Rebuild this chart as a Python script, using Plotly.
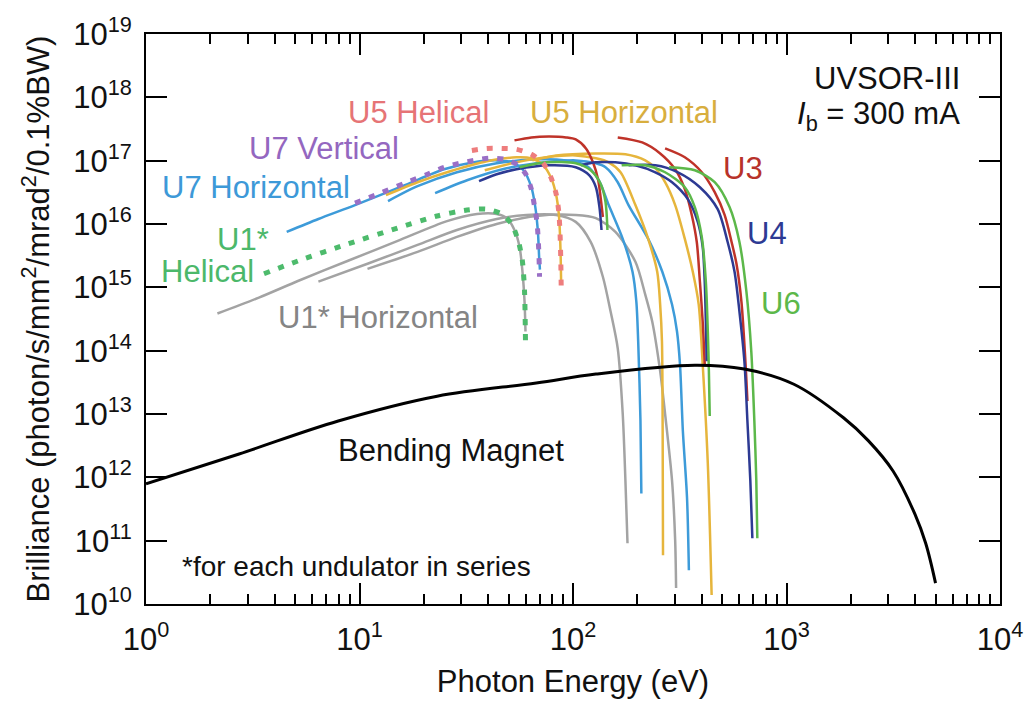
import plotly.graph_objects as go

# ---------------- data (photon energy in eV, brilliance) ----------------
BM_E = [1, 2.73, 7.95, 23.1, 67.3, 128, 372, 635, 1083, 1849, 2415, 3155, 4000, 4487, 4990]
BM_B = [7.9e11, 2.34e12, 7.76e12, 1.91e13, 3.09e13, 4.27e13, 5.89e13, 5.13e13, 2.95e13, 8.71e12, 3.8e12, 1.26e12, 2.6e11, 9.1e10, 2.14e10]

# U1* Horizontal (gray), harmonics 1, 3, 5
U1H1_E = [2.16, 3.38, 5.18, 8.84, 15.1, 25.7, 35.5, 43.9, 48.9, 53.2, 56.2, 58.0, 59.3, 59.9]
U1H1_B = [3.86e14, 6.89e14, 1.27e15, 2.63e15, 5.41e15, 1.11e16, 1.44e16, 1.44e16, 1.24e16, 8.05e15, 4.35e15, 1.76e15, 5.96e14, 2.01e14]
U1H3_E = [6.42, 10.9, 18.7, 28.6, 43.9, 60.5, 83.4, 103, 121, 138, 150, 162, 171, 176, 180]
U1H3_B = [1.23e15, 2.36e15, 4.68e15, 8.05e15, 1.20e16, 1.39e16, 1.39e16, 1.08e16, 5.22e15, 1.47e15, 4.15e14, 1.09e14, 1.0e13, 8.87e11, 9.1e10]
U1H5_E = [10.9, 18.7, 28.6, 43.9, 67.3, 103, 128, 158, 196, 218, 235, 256, 270, 291, 301, 304]
U1H5_B = [1.96e15, 3.63e15, 6.25e15, 1.0e16, 1.34e16, 1.39e16, 1.24e16, 7.5e15, 2.53e15, 7.67e14, 2.89e14, 4.74e13, 1.0e13, 8.87e11, 1.01e11, 1.79e10]

# U1* Helical (green, dotted)
U1C_E = [3.57, 5.18, 8.84, 15.1, 23.1, 31.9, 39.5, 46.3, 51.6, 55.6, 58.0, 59.3, 59.9]
U1C_B = [1.64e15, 2.63e15, 4.85e15, 8.65e15, 1.34e16, 1.66e16, 1.72e16, 1.44e16, 1.0e16, 5.2e15, 2.53e15, 8.55e14, 1.40e14]

# U7 Horizontal (light blue)
U7H1_E = [4.56, 6.42, 9.53, 16.3, 24.9, 34.4, 43.9, 51.6, 58.6, 63.8, 66.6, 68.5, 69.4, 70.0]
U7H1_B = [7.5e15, 1.2e16, 1.99e16, 4.1e16, 7.31e16, 9.42e16, 1.01e17, 9.42e16, 7.05e16, 3.81e16, 1.85e16, 7.5e15, 3.03e15, 1.9e15]
U7H3_E = [13.6, 18.7, 28.6, 43.9, 67.3, 92.8, 115, 132, 147, 171, 190, 198, 202, 207, 209]
U7H3_B = [2.3e16, 3.95e16, 6.56e16, 9.08e16, 1.05e17, 1.01e17, 8.45e16, 4.91e16, 1.99e16, 5.82e15, 1.76e15, 5.96e14, 1.40e14, 7.76e12, 5.55e11]
U7H5_E = [22.6, 31.9, 48.9, 74.9, 103, 128, 142, 162, 182, 225, 262, 291, 307, 317, 327, 342, 349]
U7H5_B = [3.07e16, 4.91e16, 7.59e16, 9.42e16, 1.01e17, 9.08e16, 7.86e16, 4.57e16, 1.99e16, 5.82e15, 1.76e15, 5.35e14, 2.01e14, 6.11e13, 5.41e12, 4.8e11, 3.42e10]

# U7 Vertical (purple, dotted)
U7V_E = [9.53, 12.2, 16.3, 20.8, 24.9, 29.3, 34.4, 40.3, 47.9, 55.6, 60.5, 63.8, 65.9, 67.8, 68.7, 69.3, 69.7]
U7V_B = [2.14e16, 2.96e16, 4.41e16, 6.1e16, 7.86e16, 9.08e16, 1.01e17, 1.09e17, 1.05e17, 8.45e16, 5.89e16, 3.55e16, 1.99e16, 1.08e16, 5.82e15, 3.03e15, 1.47e15]

# U5 Helical (pink, dotted)
U5C_E = [33.6, 39.5, 46.3, 54.4, 63.8, 72.6, 79.1, 83.4, 85.8, 86.9, 87.6, 88.1]
U5C_B = [1.45e17, 1.56e17, 1.56e17, 1.51e17, 1.26e17, 9.08e16, 5.28e16, 2.96e16, 1.55e16, 7.5e15, 3.03e15, 9.2e14]

# U5 Horizontal (gold)
U5H1_E = [13.3, 18.7, 26.6, 39.5, 54.4, 63.8, 72.6, 79.1, 83.4, 85.8, 86.9, 87.6, 88.0]
U5H1_B = [2.86e16, 4.57e16, 6.8e16, 9.77e16, 1.13e17, 1.09e17, 8.45e16, 5.28e16, 2.86e16, 1.44e16, 6.97e15, 2.82e15, 1.14e15]
U5H3_E = [38.6, 54.4, 74.9, 103, 128, 147, 167, 196, 225, 248, 256, 261, 263, 264]
U5H3_B = [7.05e16, 9.42e16, 1.13e17, 1.21e17, 1.09e17, 9.42e16, 6.56e16, 1.99e16, 5.82e15, 1.76e15, 5.35e14, 1.40e14, 5.41e12, 5.89e10]
U5H5_E = [64.5, 83.4, 128, 176, 218, 243, 270, 301, 334, 364, 388, 405, 428, 446]
U5H5_B = [1.01e17, 1.21e17, 1.30e17, 1.26e17, 1.01e17, 7.59e16, 4.57e16, 1.99e16, 5.82e15, 1.76e15, 5.35e14, 6.11e13, 1.64e12, 1.39e10]

# U4 (dark blue)
U4H1_E = [36.3, 43.9, 54.4, 77.4, 103, 119, 128, 133, 136]
U4H1_B = [4.74e16, 6.1e16, 7.31e16, 8.45e16, 7.86e16, 5.89e16, 3.81e16, 1.85e16, 8.05e15]
U4H3_E = [109, 128, 158, 196, 243, 291, 345, 384, 405, 414, 419, 423]
U4H3_B = [8.45e16, 9.42e16, 9.42e16, 8.45e16, 6.56e16, 4.57e16, 2.47e16, 1.08e16, 4.35e15, 1.23e15, 2.89e14, 6.81e13]
U4H5_E = [182, 243, 310, 393, 476, 530, 571, 602, 635, 656, 677, 692]
U4H5_B = [8.45e16, 8.45e16, 6.56e16, 3.81e16, 1.72e16, 5.2e15, 1.76e15, 4.15e14, 6.81e13, 7.76e12, 8.87e11, 1.09e11]

# U6 (green)
U6H1_E = [56.2, 74.9, 103, 121, 135, 142, 145]
U6H1_B = [7.86e16, 9.42e16, 9.08e16, 7.05e16, 4.25e16, 2.22e16, 8.05e15]
U6H3_E = [169, 218, 270, 334, 372, 401, 419, 428, 433, 437]
U6H3_B = [8.45e16, 8.45e16, 6.56e16, 3.81e16, 1.85e16, 6.25e15, 1.23e15, 2.01e14, 4.74e13, 9.31e12]
U6H5_E = [282, 372, 461, 541, 602, 649, 684, 707, 722, 730]
U6H5_B = [7.86e16, 7.05e16, 4.57e16, 1.85e16, 5.2e15, 8.55e14, 9.77e13, 7.76e12, 8.87e11, 1.09e11]

# U3 (dark red)
U3A_E = [53.2, 63.8, 77.4, 92.8, 103, 115, 124, 131, 135, 138]
U3A_B = [2.09e17, 2.33e17, 2.41e17, 2.33e17, 2.16e17, 1.56e17, 9.42e16, 5.09e16, 2.47e16, 1.29e16]
U3B_E = [162, 211, 256, 301, 334, 360, 380, 393, 405, 414]
U3B_B = [2.33e17, 1.94e17, 1.30e17, 7.31e16, 3.55e16, 1.39e16, 5.2e15, 1.23e15, 2.89e14, 6.11e13]
U3C_E = [270, 334, 401, 461, 513, 553, 583, 615, 642, 656]
U3C_B = [1.56e17, 1.13e17, 6.56e16, 3.18e16, 1.39e16, 5.2e15, 2.36e15, 5.96e14, 6.81e13, 1.6e13]

# axis ticks
X_TICKS = [1, 10, 100, 1000, 10000]
X_TICK_TEXT = ["10<sup>0</sup>", "10<sup>1</sup>", "10<sup>2</sup>", "10<sup>3</sup>", "10<sup>4</sup>"]
Y_TICKS = [1e10, 1e11, 1e12, 1e13, 1e14, 1e15, 1e16, 1e17, 1e18, 1e19]
Y_TICK_TEXT = ["10<sup>%d</sup>" % k for k in range(10, 20)]

# ---------------- styles ----------------
GRAY = "#a3a3a3"
BLUE = "#3d9bd9"
GOLD = "#e6b53c"
PINK = "#ee7d7d"
PURPLE = "#9a6fc6"
GREEN_D = "#4dbb6c"
DBLUE = "#2d3a93"
GREEN = "#5cb84a"
RED = "#bf3329"
FONT = "Liberation Sans, Arial, Helvetica, sans-serif"

fig = go.Figure()


def add(E, B, color, width=2.5, dash=None, smoothing=0.8):
    line = dict(color=color, width=width, shape="spline", smoothing=smoothing)
    if dash:
        line["dash"] = dash
    fig.add_trace(go.Scatter(x=E, y=B, mode="lines", line=line,
                             hoverinfo="skip", showlegend=False))


for E, B in [(U1H1_E, U1H1_B), (U1H3_E, U1H3_B), (U1H5_E, U1H5_B)]:
    add(E, B, GRAY)
for E, B in [(U7H1_E, U7H1_B), (U7H3_E, U7H3_B), (U7H5_E, U7H5_B)]:
    add(E, B, BLUE)
for E, B in [(U5H1_E, U5H1_B), (U5H3_E, U5H3_B), (U5H5_E, U5H5_B)]:
    add(E, B, GOLD)
for E, B in [(U3A_E, U3A_B), (U3B_E, U3B_B), (U3C_E, U3C_B)]:
    add(E, B, RED)
for E, B in [(U4H1_E, U4H1_B), (U4H3_E, U4H3_B), (U4H5_E, U4H5_B)]:
    add(E, B, DBLUE)
for E, B in [(U6H1_E, U6H1_B), (U6H3_E, U6H3_B), (U6H5_E, U6H5_B)]:
    add(E, B, GREEN)
add(U1C_E, U1C_B, GREEN_D, width=5, dash="6px,9px", smoothing=0.7)
add(U7V_E, U7V_B, PURPLE, width=5, dash="6px,9px", smoothing=0.7)
add(U5C_E, U5C_B, PINK, width=5, dash="6px,9px", smoothing=0.7)
add(BM_E, BM_B, "black", width=3, smoothing=1.0)

# ---------------- annotations ----------------
L, R, T, Bm = 146, 27, 31, 107
W, H = 1035, 711
PW, PH = W - L - R, H - T - Bm


def label(text, px, py, color, size=31, xanchor="center"):
    fig.add_annotation(text=text, xref="paper", yref="paper",
                       x=(px - L) / PW, y=(H - Bm - py) / PH,
                       xanchor=xanchor, yanchor="middle", showarrow=False,
                       font=dict(family=FONT, size=size, color=color))


label("U5 Helical", 421, 110, "#e67476")
label("U5 Horizontal", 628, 110, "#d8ae3e")
label("U7 Vertical", 326, 146, "#9467c0")
label("U7 Horizontal", 257, 185, "#3d99d8")
label("U1*", 244, 238, "#4cb86a")
label("Helical", 208, 270, "#4cb86a")
label("U1* Horizontal", 380, 316, "#858585")
label("U3", 749, 166, "#b8322a")
label("U4", 773, 232, "#2d3a93")
label("U6", 787, 302, "#5cb84a")
label("Bending Magnet", 454, 450, "#111111")
label("*for each undulator in series", 180, 566, "#111111", size=28, xanchor="left")
label("UVSOR-III", 970, 76, "#111111", xanchor="right")
label("<i>I</i><sub>b</sub> = 300 mA", 970, 113, "#111111", xanchor="right")

minor_x = [m * 10 ** k for k in range(0, 4) for m in range(2, 10)]

axis_common = dict(
    type="log", showgrid=False, zeroline=False,
    showline=True, linecolor="black", linewidth=2, mirror="ticks",
    ticks="inside", ticklen=21, tickwidth=2, tickcolor="black",
    tickfont=dict(family=FONT, size=31, color="#111111"),
)

fig.update_layout(
    width=W, height=H, autosize=False,
    margin=dict(l=L, r=R, t=T, b=Bm),
    paper_bgcolor="white", plot_bgcolor="white",
    showlegend=False,
    xaxis=dict(axis_common, range=[0, 4], tickmode="array",
               tickvals=X_TICKS, ticktext=X_TICK_TEXT,
               ticklabelstandoff=7,
               minor=dict(tickmode="array", tickvals=minor_x, ticks="inside",
                          ticklen=10, tickwidth=1.5, tickcolor="black"),
               title=dict(text="Photon Energy (eV)", standoff=14,
                          font=dict(family=FONT, size=31, color="#111111"))),
    yaxis=dict(axis_common, range=[10, 19], tickmode="array",
               tickvals=Y_TICKS, ticktext=Y_TICK_TEXT,
               ticklabelstandoff=6,
               title=dict(text="Brilliance (photon/s/mm<sup>2</sup>/mrad<sup>2</sup>/0.1%BW)",
                          standoff=14,
                          font=dict(family=FONT, size=31, color="#111111"))),
)

fig.write_html("out.html")
